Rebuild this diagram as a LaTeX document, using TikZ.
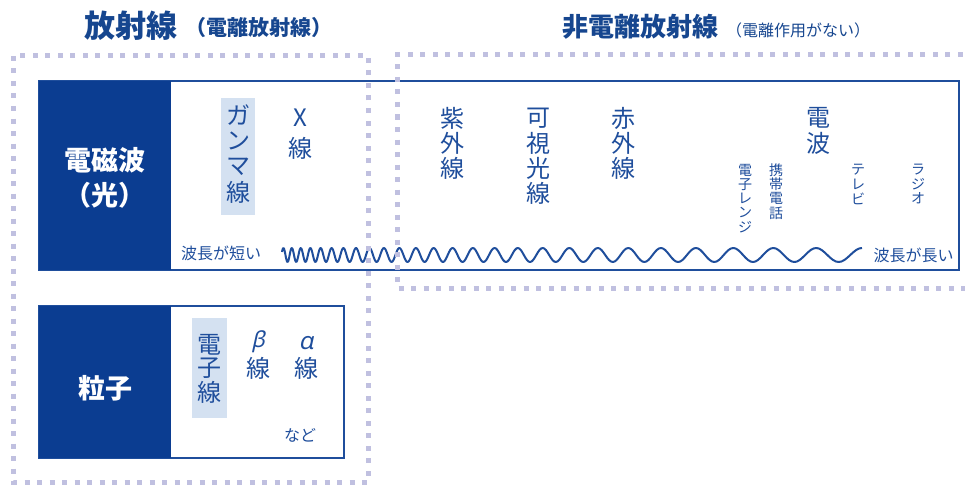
\documentclass[tikz,border=0pt]{standalone}
\usepackage{fontspec}
\setmainfont{Noto Sans CJK JP}
\newfontfamily\grk[FakeSlant=0.22]{Noto Sans}
\definecolor{navy}{HTML}{0B3D91}
\definecolor{txtblue}{HTML}{1F4E9C}
\definecolor{ttlblue}{HTML}{16468F}
\definecolor{dotc}{HTML}{C0C0E0}
\definecolor{hl}{HTML}{D4E1F1}
\newcommand\fsz[1]{\fontsize{#1}{#1}\selectfont}
\newcommand\vcolumn[6]{%
  \foreach \c [count=\i from 0] in {#6} {%
    \node[#1] (#2-\i) at (#3, #4+\i*#5) {\c};
  }%
}
\tikzset{
  jp/.style={text=txtblue, inner sep=0pt},
  big/.style={jp, font=\fsz{24}},
  small/.style={jp, font=\fsz{14}},
  lbl/.style={jp, font=\fsz{16}},
  greek/.style={jp, font=\grk\fsz{#1}},
  panel/.style={draw=txtblue, line width=2pt, fill=white},
  dark/.style={fill=navy},
  head/.style={text=white, inner sep=0pt, font=\bfseries\fsz{27}},
  dotline/.style={draw=dotc, line width=5pt, dash pattern=on 5pt off 7.5pt},
  wave/.style={draw=txtblue, line width=2pt, line join=round},
}
\begin{document}
\begin{tikzpicture}[x=1pt,y=-1pt]
\path[use as bounding box] (0,0) rectangle (965,484);

% titles
\node[text=ttlblue, inner sep=0pt, font=\bfseries\fsz{31}] (t1) at (130.5,26) {放射線};
\node[text=ttlblue, inner sep=0pt, font=\bfseries\fsz{21}] (t1s) at (258.5,28) {（電離放射線）};
\node[text=ttlblue, inner sep=0pt, font=\bfseries\fsz{26}] (t2) at (640,27) {非電離放射線};
\node[text=ttlblue, inner sep=0pt, font=\fsz{16}] (t2s) at (798,30) {（電離作用がない）};

% electromagnetic wave panel
\draw[panel] (39,81) rectangle (959,270);
\fill[dark] (39,81) rectangle (171,270);
\node[head] (em1) at (105,160) {電磁波};
\node[head] (em2) at (105,195) {（光）};

% particle panel
\draw[panel] (39,306) rectangle (344,458);
\fill[dark] (39,306) rectangle (171,458);
\node[head] (pt) at (105,388) {粒子};

% highlights
\fill[hl] (221,98) rectangle (255,215);
\fill[hl] (192,318) rectangle (227,418);

% columns (top)
\vcolumn{big}{gam}{238}{115}{25.7}{ガ,ン,マ,線}
\vcolumn{big}{xr}{300}{118}{30}{X,線}
\vcolumn{big}{uv}{452}{118}{25}{紫,外,線}
\vcolumn{big}{vis}{538}{118}{25}{可,視,光,線}
\vcolumn{big}{ir}{623}{118}{25}{赤,外,線}
\vcolumn{big}{rad}{818}{118}{25}{電,波}
\vcolumn{small}{mw}{745}{170}{14.3}{電,子,レ,ン,ジ}
\vcolumn{small}{ph}{776}{170}{14.3}{携,帯,電,話}
\vcolumn{small}{tv}{858}{170}{14.3}{テ,レ,ビ}
\vcolumn{small}{rd}{918}{170}{14.3}{ラ,ジ,オ}

% wavelength labels
\node[lbl] (short) at (221,253) {波長が短い};
\node[lbl] (long) at (913.5,255) {波長が長い};

% chirped wave (wavelength grows from about 8 to 47); parameter = phase/1000 deg
\draw[wave] plot[domain=0:9.424, samples=420, smooth]
  ({282 + 117.65*(exp(\x*0.18889)-1)}, {255 - 7*sin(1000*\x + 26)});

% columns (bottom)
\vcolumn{big}{el}{209}{345}{23.5}{電,子,線}
\node[greek=22] (beta) at (258,342) {β};
\node[big] (beta-l) at (258,368) {線};
\node[greek=24] (alpha) at (306,343) {α};
\node[big] (alpha-l) at (306,368) {線};
\node[lbl] (etc) at (300,435) {など};

% dotted region boxes
\draw[dotline] (13,56) rectangle (368,482);
\draw[dotline] (1000,55) -- (397,55) -- (397,288) -- (1000,288);
\end{tikzpicture}
\end{document}
